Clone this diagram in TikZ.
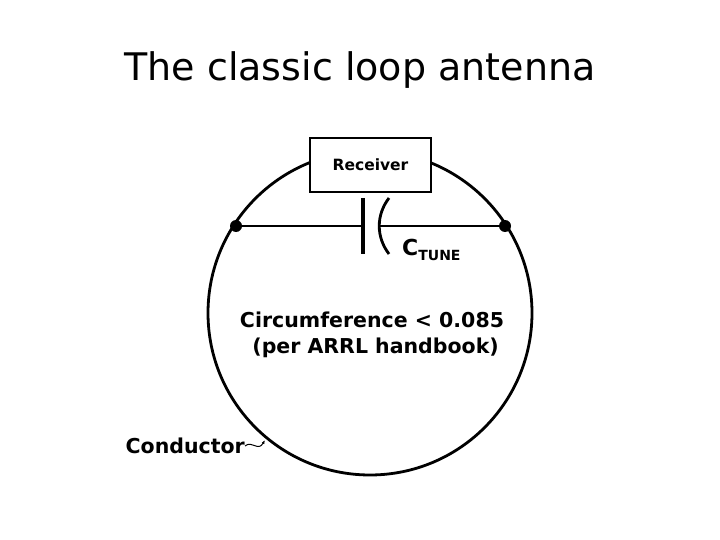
\documentclass[tikz,border=0pt]{standalone}
\usepackage{fontspec}
\setmainfont{DejaVu Sans}
\usetikzlibrary{arrows.meta}
\begin{document}
\begin{tikzpicture}[x=1pt,y=-1pt,
  lab/.style={font=\bfseries\fontsize{20.5}{26}\selectfont},
  wire/.style={line width=2.8pt}]
\useasboundingbox (0,0) rectangle (720,540);
\node (title) at (360,70) {\fontsize{38}{44}\selectfont The classic loop antenna};
\draw[wire] (370,313) circle (162);
\node[draw,line width=1.5pt,fill=white,minimum width=121pt,minimum height=54pt,inner sep=0pt,
  font=\bfseries\fontsize{15.5}{18}\selectfont] (rx) at (370.5,165) {Receiver};
\fill (236,226) circle (6) coordinate (L);
\fill (505,226) circle (6) coordinate (R);
\coordinate (p1) at (363,226);
\coordinate (p2) at (380,226);
\draw[wire] (L) -- (p1);
\draw[wire] (p2) -- (R);
\draw[line width=3.5pt] (363,198) -- (363,254);
\draw[line width=2.8pt] (389,198) .. controls (376,215) and (376,237) .. (389,254);
\node[lab,anchor=west,inner sep=0] (ct) at (402,250) {\fontsize{22}{26}\selectfont C\raisebox{-0.45ex}{\fontsize{14}{16}\selectfont TUNE}};
\node[lab,align=center,inner sep=0] (circ) at (372,335) {Circumference < 0.085\\\ (per ARRL handbook)};
\node[lab,anchor=east,inner sep=0] (cond) at (245,446) {Conductor};
\coordinate (ce) at (265,440);
\draw[line width=1pt,-{Latex[length=4pt]}] (cond.east) .. controls (252,440) and (258,452) .. (ce);
\end{tikzpicture}
\end{document}
